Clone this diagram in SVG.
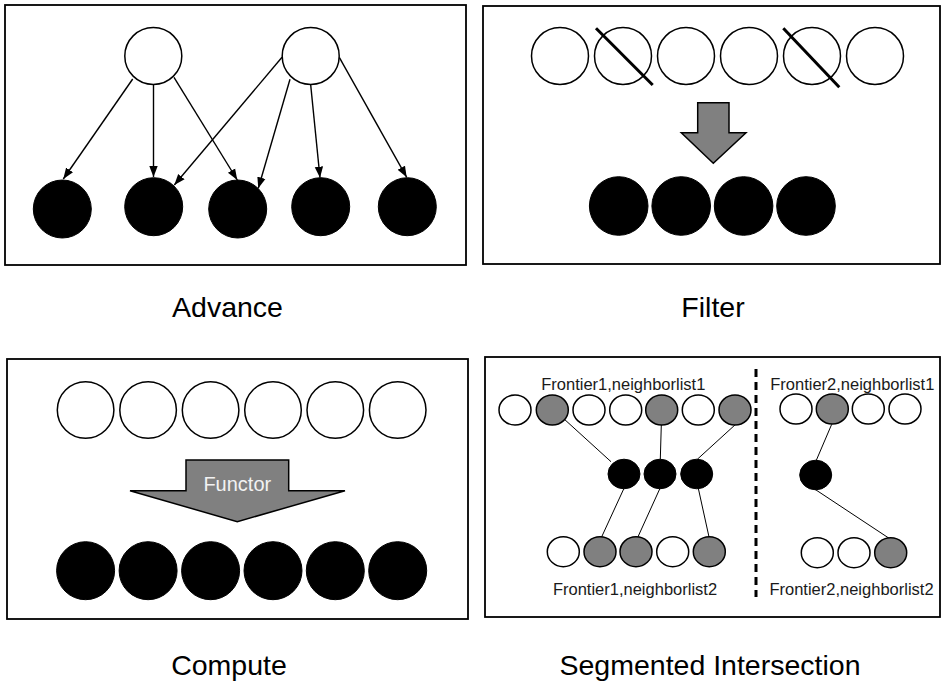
<svg xmlns="http://www.w3.org/2000/svg" width="942" height="685" viewBox="0 0 942 685">
<style>
.box{fill:#fff;stroke:#000;stroke-width:1.8}
.w{fill:#fff;stroke:#000;stroke-width:1.5}
.b{fill:#000;stroke:#000;stroke-width:1}
.g{fill:#808080;stroke:#000;stroke-width:1.5}
.arr{stroke:#000;stroke-width:1.4;fill:none;marker-end:url(#ah)}
.thin{stroke:#000;stroke-width:1;fill:none}
.strike{stroke:#000;stroke-width:3}
.cap{font-family:"Liberation Sans",Arial,sans-serif;font-size:28.5px;fill:#000;text-anchor:middle}
.lbl{font-family:"Liberation Sans",Arial,sans-serif;font-size:16.5px;fill:#1a1a1a;text-anchor:middle}
</style>
<defs>
<marker id="ah" markerUnits="userSpaceOnUse" markerWidth="12" markerHeight="10" refX="11" refY="5" orient="auto">
<path d="M0,0.8 L11,5 L0,9.2 z" fill="#000"/>
</marker>
</defs>
<rect width="942" height="685" fill="#fff"/>

<!-- Panel frames -->
<g id="frames">
<rect class="box" x="5" y="5" width="461" height="260"/>
<rect class="box" x="483" y="6" width="457" height="258"/>
<rect class="box" x="7" y="359" width="461" height="260"/>
<rect class="box" x="485" y="357" width="455" height="260"/>
</g>

<!-- Advance -->
<g id="connectors-advance">
<line class="arr" x1="132.7" y1="79" x2="63.3" y2="179"/>
<line class="arr" x1="153.5" y1="85" x2="153.5" y2="177"/>
<line class="arr" x1="174" y1="77.3" x2="237.3" y2="180"/>
<line class="arr" x1="282" y1="57.3" x2="174.3" y2="185"/>
<line class="arr" x1="290" y1="79.3" x2="258.3" y2="188.3"/>
<line class="arr" x1="310.7" y1="85" x2="320" y2="177.7"/>
<line class="arr" x1="339.3" y1="57.3" x2="406.7" y2="177.3"/>
</g>
<g id="adv-src1"><circle class="w" cx="153.3" cy="56" r="28.5"/></g>
<g id="adv-src2"><circle class="w" cx="310.7" cy="56" r="28.5"/></g>
<g id="adv-dst1"><circle class="b" cx="62.3" cy="209" r="29"/></g>
<g id="adv-dst2"><circle class="b" cx="153.7" cy="206.7" r="29"/></g>
<g id="adv-dst3"><circle class="b" cx="237.7" cy="209" r="29"/></g>
<g id="adv-dst4"><circle class="b" cx="320.7" cy="206.7" r="29"/></g>
<g id="adv-dst5"><circle class="b" cx="407.3" cy="206.7" r="29"/></g>
<text class="cap" x="227.5" y="317">Advance</text>

<!-- Filter -->
<g id="filter-in">
<circle class="w" cx="560" cy="56" r="28.5"/>
<circle class="w" cx="623" cy="56" r="28.5"/>
<circle class="w" cx="686" cy="56" r="28.5"/>
<circle class="w" cx="749" cy="56" r="28.5"/>
<circle class="w" cx="812" cy="56" r="28.5"/>
<circle class="w" cx="875" cy="56" r="28.5"/>
<line class="strike" x1="596" y1="28.3" x2="652.7" y2="85"/>
<line class="strike" x1="783.3" y1="28.3" x2="839.3" y2="87.3"/>
</g>
<g id="filter-arrow">
<polygon class="g" points="697.7,102.7 729,102.7 729,132.7 746,132.7 713.3,163.3 681.3,132.7 697.7,132.7"/>
</g>
<g id="filter-out">
<circle class="b" cx="618.7" cy="206" r="29.3"/>
<circle class="b" cx="681.2" cy="206" r="29.3"/>
<circle class="b" cx="743.6" cy="206" r="29.3"/>
<circle class="b" cx="806" cy="206" r="29.3"/>
</g>
<text class="cap" x="713" y="317">Filter</text>

<!-- Compute -->
<g id="compute-in">
<circle class="w" cx="85.6" cy="410" r="28.3"/>
<circle class="w" cx="148.1" cy="410" r="28.3"/>
<circle class="w" cx="210.6" cy="410" r="28.3"/>
<circle class="w" cx="273" cy="410" r="28.3"/>
<circle class="w" cx="335.3" cy="410" r="28.3"/>
<circle class="w" cx="397.7" cy="410" r="28.3"/>
</g>
<g id="compute-arrow">
<polygon class="g" points="186,460 288.7,460 288.7,490.7 345,490.7 237.3,521.7 130,490.7 186,490.7"/>
<text x="237.3" y="491" font-family="'Liberation Sans',Arial,sans-serif" font-size="20" fill="#f2f2f2" text-anchor="middle">Functor</text>
</g>
<g id="compute-out">
<circle class="b" cx="85.6" cy="570.7" r="29"/>
<circle class="b" cx="148.1" cy="570.7" r="29"/>
<circle class="b" cx="210.6" cy="570.7" r="29"/>
<circle class="b" cx="273" cy="570.7" r="29"/>
<circle class="b" cx="335.3" cy="570.7" r="29"/>
<circle class="b" cx="397.7" cy="570.7" r="29"/>
</g>
<text class="cap" x="229" y="675">Compute</text>

<!-- Segmented Intersection -->
<g id="connectors-seg">
<line class="thin" x1="563.3" y1="418.3" x2="611" y2="461.7"/>
<line class="thin" x1="661.3" y1="425" x2="660.3" y2="459.3"/>
<line class="thin" x1="736" y1="424" x2="697.3" y2="459.3"/>
<line class="thin" x1="624" y1="488.3" x2="601" y2="538.3"/>
<line class="thin" x1="660" y1="488.3" x2="637.3" y2="538.3"/>
<line class="thin" x1="698.3" y1="488.3" x2="709.3" y2="538.3"/>
<line class="thin" x1="831.7" y1="424.3" x2="816" y2="461"/>
<line class="thin" x1="815" y1="489.3" x2="891.7" y2="540"/>
</g>
<line x1="756" y1="369" x2="756" y2="597" stroke="#000" stroke-width="3" stroke-dasharray="8,5"/>

<g id="seg-f1n1">
<text class="lbl" x="623.3" y="390">Frontier1,neighborlist1</text>
<ellipse class="w" cx="515" cy="410" rx="16" ry="15"/>
<ellipse class="g" cx="552.3" cy="410" rx="16" ry="15"/>
<ellipse class="w" cx="589" cy="410" rx="16" ry="15"/>
<ellipse class="w" cx="625.7" cy="410" rx="16" ry="15"/>
<ellipse class="g" cx="661.7" cy="410" rx="16" ry="15"/>
<ellipse class="w" cx="698.3" cy="410" rx="16" ry="15"/>
<ellipse class="g" cx="735" cy="410" rx="16" ry="15"/>
</g>
<g id="seg-mid1">
<ellipse class="b" cx="624" cy="474" rx="16" ry="14.8"/>
<ellipse class="b" cx="660" cy="474" rx="16" ry="14.8"/>
<ellipse class="b" cx="696.7" cy="474" rx="16" ry="14.8"/>
</g>
<g id="seg-f1n2">
<ellipse class="w" cx="563.3" cy="551.7" rx="16" ry="15"/>
<ellipse class="g" cx="600" cy="551.7" rx="16" ry="15"/>
<ellipse class="g" cx="636" cy="551.7" rx="16" ry="15"/>
<ellipse class="w" cx="672.7" cy="551.7" rx="16" ry="15"/>
<ellipse class="g" cx="709.3" cy="551.7" rx="16" ry="15"/>
<text class="lbl" x="635" y="595">Frontier1,neighborlist2</text>
</g>
<g id="seg-f2n1">
<text class="lbl" x="852.3" y="390">Frontier2,neighborlist1</text>
<ellipse class="w" cx="796" cy="409" rx="16" ry="15"/>
<ellipse class="g" cx="832.3" cy="409" rx="16" ry="15"/>
<ellipse class="w" cx="868.3" cy="409" rx="16" ry="15"/>
<ellipse class="w" cx="905" cy="409" rx="16" ry="15"/>
</g>
<g id="seg-mid2">
<ellipse class="b" cx="815.7" cy="475" rx="16" ry="14.8"/>
</g>
<g id="seg-f2n2">
<ellipse class="w" cx="817.3" cy="552.7" rx="16" ry="15"/>
<ellipse class="w" cx="854" cy="552.7" rx="16" ry="15"/>
<ellipse class="g" cx="890.7" cy="552.7" rx="16" ry="15"/>
<text class="lbl" x="851.5" y="595">Frontier2,neighborlist2</text>
</g>
<text class="cap" x="710" y="675">Segmented Intersection</text>
</svg>
